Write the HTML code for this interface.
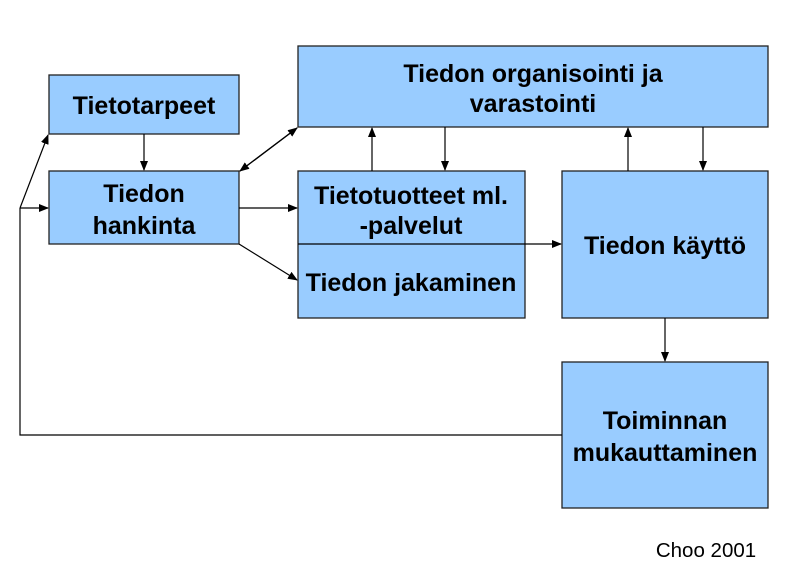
<!DOCTYPE html>
<html><head><meta charset="utf-8"><style>
html,body{margin:0;padding:0;background:#fff;}
svg{display:block}
text{font-family:"Liberation Sans",Arial,sans-serif;font-weight:bold;font-size:25px;fill:#000;text-anchor:middle}
</style></head><body>
<svg width="787" height="583" viewBox="0 0 787 583">
<defs><marker id="a" markerWidth="10" markerHeight="8" refX="9" refY="4" orient="auto" markerUnits="userSpaceOnUse"><path d="M0,0 L10,4 L0,8 z" fill="#000"/></marker></defs>
<g fill="#99ccff" stroke="#222" stroke-width="1.3">
<rect x="49" y="75" width="190" height="59"/>
<rect x="298" y="46" width="470" height="81"/>
<rect x="49" y="171" width="190" height="73"/>
<rect x="298" y="171" width="227" height="147"/>
<rect x="562" y="171" width="206" height="147"/>
<rect x="562" y="362" width="206" height="146"/>
</g>
<g stroke="#000" stroke-width="1.2" fill="none">
<line x1="298" y1="244" x2="525" y2="244"/>
<line x1="525" y1="244" x2="561" y2="244" marker-end="url(#a)"/>
<line x1="144" y1="134" x2="144" y2="170" marker-end="url(#a)"/>
<line x1="20" y1="208" x2="48" y2="208" marker-end="url(#a)"/>
<line x1="20" y1="208" x2="48" y2="135" marker-end="url(#a)"/>
<line x1="240" y1="171" x2="297" y2="128" marker-end="url(#a)"/>
<line x1="297" y1="128" x2="240" y2="171" marker-end="url(#a)"/>
<line x1="239" y1="208" x2="297" y2="208" marker-end="url(#a)"/>
<line x1="239" y1="244" x2="297" y2="280" marker-end="url(#a)"/>
<line x1="372" y1="171" x2="372" y2="128" marker-end="url(#a)"/>
<line x1="445" y1="127" x2="445" y2="170" marker-end="url(#a)"/>
<line x1="628" y1="171" x2="628" y2="128" marker-end="url(#a)"/>
<line x1="703" y1="127" x2="703" y2="170" marker-end="url(#a)"/>
<line x1="665" y1="318" x2="665" y2="361" marker-end="url(#a)"/>
<polyline points="562,435 20,435 20,208"/>
</g>
<text x="144" y="114">Tietotarpeet</text>
<text x="533" y="82">Tiedon organisointi ja</text>
<text x="533" y="112">varastointi</text>
<text x="144" y="202">Tiedon</text>
<text x="144" y="234">hankinta</text>
<text x="411" y="204">Tietotuotteet ml.</text>
<text x="411" y="234">-palvelut</text>
<text x="411" y="291">Tiedon jakaminen</text>
<text x="665" y="254">Tiedon käyttö</text>
<text x="665" y="429">Toiminnan</text>
<text x="665" y="461">mukauttaminen</text>
<text x="706" y="557" style="font-weight:normal;font-size:20.5px">Choo 2001</text>
</svg>
</body></html>
